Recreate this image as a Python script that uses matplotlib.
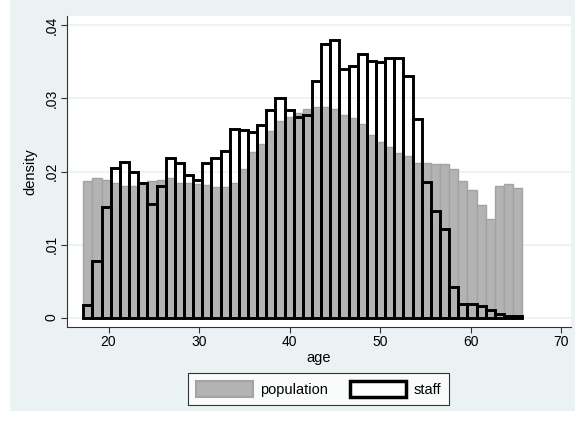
import matplotlib
matplotlib.use("Agg")
import matplotlib.pyplot as plt
import numpy as np
from matplotlib.patches import Patch, Rectangle

plt.rcParams['font.family'] = ['Liberation Sans', 'DejaVu Sans']

# histogram bins (age), 48 equal bins
age_min = 17.22
age_max = 65.72
n_bins = 48

population = [0.0187, 0.0191, 0.0188, 0.0184, 0.0180, 0.0180, 0.0183, 0.0187,
              0.0188, 0.0191, 0.0184, 0.0184, 0.0183, 0.0181, 0.0179, 0.0179,
              0.0184, 0.0204, 0.0227, 0.0238, 0.0256, 0.0269, 0.0275, 0.0280,
              0.0285, 0.0288, 0.0289, 0.0286, 0.0278, 0.0273, 0.0265, 0.0250,
              0.0240, 0.0233, 0.0226, 0.0221, 0.0212, 0.0211, 0.0210, 0.0210,
              0.0203, 0.0187, 0.0175, 0.0154, 0.0135, 0.0180, 0.0183, 0.0178]

staff = [0.0017, 0.0078, 0.0151, 0.0205, 0.0213, 0.0200, 0.0184, 0.0156,
         0.0180, 0.0219, 0.0211, 0.0195, 0.0188, 0.0211, 0.0219, 0.0228,
         0.0258, 0.0257, 0.0254, 0.0264, 0.0284, 0.0300, 0.0284, 0.0275,
         0.0278, 0.0324, 0.0374, 0.0380, 0.0340, 0.0344, 0.0361, 0.0352,
         0.0350, 0.0355, 0.0355, 0.0331, 0.0272, 0.0186, 0.0146, 0.0121,
         0.0042, 0.0019, 0.0018, 0.0016, 0.0010, 0.0005, 0.0002, 0.0002]

xticks = [20, 30, 40, 50, 60, 70]
yticks = [0, 0.01, 0.02, 0.03, 0.04]
ytick_labels = ['0', '.01', '.02', '.03', '.04']

edges = np.linspace(age_min, age_max, n_bins + 1)
width = edges[1] - edges[0]

bg = '#eaf2f3'
W, H = 575, 421
fig = plt.figure(figsize=(W / 100, H / 100), dpi=100)
fig.patch.set_facecolor('white')
fig.add_artist(Rectangle((10 / W, 10 / H), 1 - 10 / W, 1 - 10 / H,
                         transform=fig.transFigure, facecolor=bg,
                         edgecolor='none', zorder=-10))

ax = fig.add_axes([66.7 / W, 94 / H, (570.5 - 66.7) / W, (327 - 16) / H])
ax.set_facecolor('white')

ax.bar(edges[:-1], population, width=width, align='edge',
       color='#b3b3b3', edgecolor='#a3a3a3', linewidth=1.0, zorder=2)
ax.bar(edges[:-1], staff, width=width, align='edge',
       fill=False, edgecolor='black', linewidth=2.1, zorder=3)

ax.set_xlim(15.38, 71.05)
ax.set_ylim(-0.0013, 0.0413)
ax.set_xticks(xticks)
ax.set_yticks(yticks)
ax.set_yticklabels(ytick_labels, rotation=90, va='center')
ax.yaxis.grid(True, color=bg, linewidth=1.2, zorder=0)
ax.set_axisbelow(True)

for s in ['top', 'right']:
    ax.spines[s].set_visible(False)
for s in ['left', 'bottom']:
    ax.spines[s].set_color('#333333')
    ax.spines[s].set_linewidth(0.8)
ax.tick_params(direction='out', length=4, width=0.8, color='#333333',
               labelsize=10, pad=2)

ax.set_xlabel('age', fontsize=10.5, labelpad=1)
ax.set_ylabel('density', fontsize=10.5, labelpad=5)

handles = [Patch(facecolor='#b3b3b3', edgecolor='#a3a3a3', linewidth=1.5),
           Patch(facecolor='white', edgecolor='black', linewidth=2.5)]
leg = fig.legend(handles, ['population', 'staff'], ncol=2,
                 loc='center', bbox_to_anchor=(318.5 / W, 1 - 389 / H),
                 fontsize=10.5, frameon=True, fancybox=False,
                 handlelength=3.9, handleheight=1.25, handletextpad=0.5,
                 columnspacing=1.5, borderpad=0.55, borderaxespad=0)
leg.get_frame().set_edgecolor('black')
leg.get_frame().set_linewidth(0.8)

fig.savefig('out.png', dpi=100, facecolor=fig.get_facecolor())
